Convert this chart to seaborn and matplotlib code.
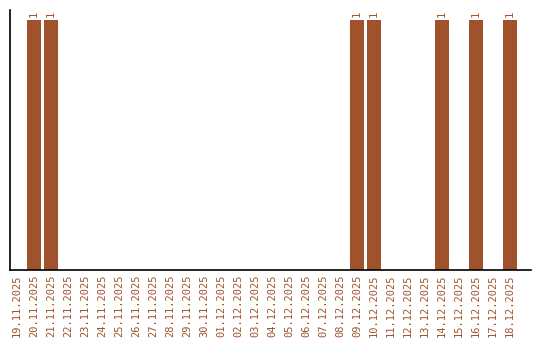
import matplotlib
matplotlib.use("Agg")
import matplotlib.pyplot as plt
import seaborn as sns
import pandas as pd

dates = ["19.11.2025", "20.11.2025", "21.11.2025", "22.11.2025", "23.11.2025",
         "24.11.2025", "25.11.2025", "26.11.2025", "27.11.2025", "28.11.2025",
         "29.11.2025", "30.11.2025", "01.12.2025", "02.12.2025", "03.12.2025",
         "04.12.2025", "05.12.2025", "06.12.2025", "07.12.2025", "08.12.2025",
         "09.12.2025", "10.12.2025", "11.12.2025", "12.12.2025", "13.12.2025",
         "14.12.2025", "15.12.2025", "16.12.2025", "17.12.2025", "18.12.2025"]
counts = [0, 1, 1, 0, 0, 0, 0, 0, 0, 0,
          0, 0, 0, 0, 0, 0, 0, 0, 0, 0,
          1, 1, 0, 0, 0, 1, 0, 1, 0, 1]

color = "#A0522D"
sns.set_style("white")
plt.rcParams['font.family'] = ['DejaVu Sans Mono', 'DejaVu Sans']

df = pd.DataFrame({"date": dates, "count": counts})

fig = plt.figure(figsize=(5.4, 3.4), dpi=100)
ax = fig.add_axes([10/540, 1 - 270/340, 521/540, 260/340])
sns.barplot(data=df, x="date", y="count", color=color, saturation=1,
            width=0.84, linewidth=0, ax=ax)

for i, v in enumerate(counts):
    if v > 0:
        ax.text(i, v + 0.012, str(v), rotation=90, ha="center", va="bottom",
                color=color, fontsize=7.5)

ax.set_xlim(-0.41, 30.24)
ax.set_ylim(0, 1.04)
ax.set_yticks([])
ax.set_xlabel("")
ax.set_ylabel("")
ax.tick_params(axis="x", length=0, pad=3, labelsize=7.5, labelcolor=color)
plt.setp(ax.get_xticklabels(), rotation=90)
for s in ["top", "right"]:
    ax.spines[s].set_visible(False)
for s in ["left", "bottom"]:
    ax.spines[s].set_color("black")
    ax.spines[s].set_linewidth(1.2)

fig.savefig("out.png", dpi=100)
